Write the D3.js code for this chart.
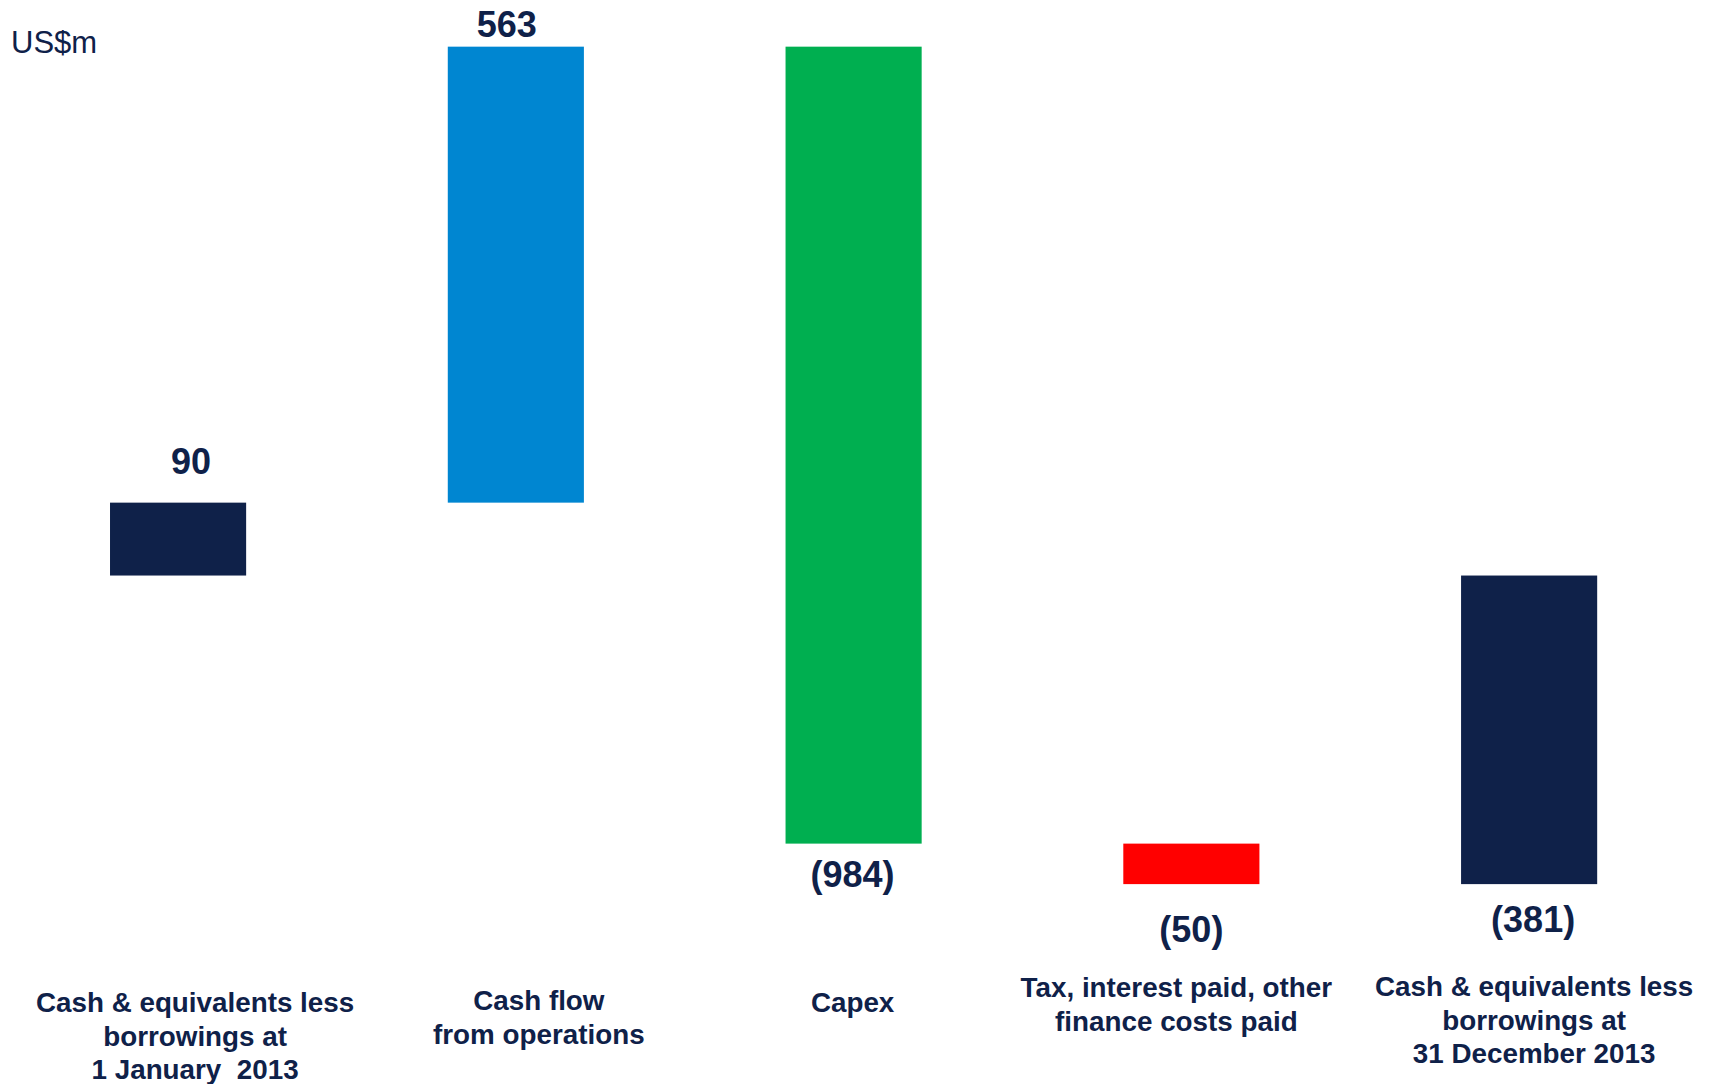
<!DOCTYPE html>
<html>
<head>
<meta charset="utf-8">
<script src="https://cdn.jsdelivr.net/npm/d3@7"></script>
<style>
  html, body { margin: 0; padding: 0; background: #ffffff; }
  svg { display: block; }
  text { font-family: "Liberation Sans", Arial, sans-serif; white-space: pre; }
</style>
</head>
<body>
<svg id="chart" width="1714" height="1084"></svg>
<script>
// Net cash bridge, US$m
const categories = [
  ["Cash & equivalents less", "borrowings at", "1 January  2013"],
  ["Cash flow", "from operations"],
  ["Capex"],
  ["Tax, interest paid, other", "finance costs paid"],
  ["Cash & equivalents less", "borrowings at", "31 December 2013"]
];
const values = [90, 563, -984, -50, -381];
const kinds = ["total", "delta", "delta", "delta", "total"];
const valueLabels = ["90", "563", "(984)", "(50)", "(381)"];
const unitLabel = "US$m";

// Styling and layout tweaks
const colors = ["#0f2149", "#0086d1", "#00af50", "#ff0000", "#0f2149"];
const textColor = "#0f2149";
const catLabelNudge = [17, 23, -1, -15, 5];
const catLabelTop = [1012, 1010, 1012, 997, 996];
const valueLabelNudge = [13, -9, -1, 0, 4];
const valueLabelGap = [29, 10, 43, 58, 48];

const svg = d3.select("#chart");

// Build waterfall steps from the values
let running = 0;
const steps = values.map((v, i) => {
  let start, end;
  if (kinds[i] === "total") { start = 0; end = v; running = v; }
  else { start = running; end = running + v; running = end; }
  return { i, v, start, end, lo: Math.min(start, end), hi: Math.max(start, end) };
});

const x = d3.scaleBand()
  .domain(d3.range(values.length))
  .range([9.2, 1698])
  .paddingInner(0.597)
  .paddingOuter(0.2985);

const y = d3.scaleLinear()
  .domain([-400, 700])
  .range([899.5, 8.6]);

// Bars
svg.append("g").selectAll("rect")
  .data(steps)
  .join("rect")
  .attr("x", d => x(d.i))
  .attr("width", x.bandwidth())
  .attr("y", d => y(d.hi))
  .attr("height", d => y(d.lo) - y(d.hi))
  .attr("fill", d => colors[d.i]);

// Value labels: above rising bars, below falling ones
svg.append("g").selectAll("text")
  .data(steps)
  .join("text")
  .attr("x", d => x(d.i) + x.bandwidth() / 2 + valueLabelNudge[d.i])
  .attr("y", d => d.v >= 0 ? y(d.hi) - valueLabelGap[d.i] : y(d.lo) + valueLabelGap[d.i])
  .attr("text-anchor", "middle")
  .attr("font-weight", "bold")
  .attr("font-size", 36)
  .attr("fill", textColor)
  .text(d => valueLabels[d.i]);

// Category labels
const cat = svg.append("g").selectAll("text")
  .data(categories)
  .join("text")
  .attr("text-anchor", "middle")
  .attr("font-weight", "bold")
  .attr("font-size", 27.8)
  .attr("fill", textColor)
  .attr("y", (d, i) => catLabelTop[i]);

cat.selectAll("tspan")
  .data((d, i) => d.map((line, k) => ({ line, k, i })))
  .join("tspan")
  .attr("x", d => x(d.i) + x.bandwidth() / 2 + catLabelNudge[d.i])
  .attr("dy", d => d.k === 0 ? 0 : 33.5)
  .text(d => d.line);

// Unit label
svg.append("text")
  .attr("x", 11)
  .attr("y", 52.5)
  .attr("font-size", 31)
  .attr("fill", textColor)
  .text(unitLabel);
</script>
</body>
</html>
